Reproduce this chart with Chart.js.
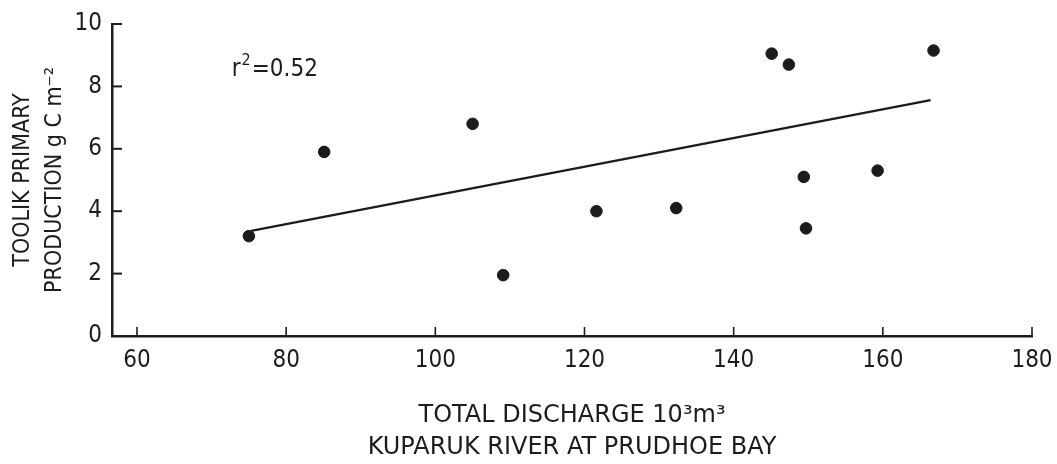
<!DOCTYPE html>
<html>
<head>
<meta charset="utf-8">
<script src="https://cdn.jsdelivr.net/npm/chart.js@4.4.1/dist/chart.umd.min.js"></script>
<style>
  html, body { margin: 0; padding: 0; background: #fff; }
  #wrap { width: 1057px; height: 464px; }
</style>
</head>
<body>
<div id="wrap"><canvas id="prodChart"></canvas></div>
<script>
// measured points: discharge (10^3 m^3) vs Toolik primary production (g C m^-2)
const discharge = [75, 85.1, 105, 109.1, 121.6, 132.3, 145.1, 147.4, 149.4, 149.7, 159.3, 166.8];
const production = [3.2, 5.9, 6.8, 1.95, 4.0, 4.1, 9.05, 8.7, 5.1, 3.45, 5.3, 9.15];

// regression line end points
const fitX = [75.3, 166.4];
const fitY = [3.37, 7.56];

const xTicks = [60, 80, 100, 120, 140, 160, 180];
const yTicks = [0, 2, 4, 6, 8, 10];
const rLabel = ['r', '2', '=0.52'];

const ink = '#1c1c1c';
const condensed = '"DejaVu Sans Condensed", "DejaVu Sans", sans-serif';

// ticks in the original point inward, so draw them by hand
const inwardTicks = {
    id: 'inwardTicks',
    afterDraw(chart) {
        const { ctx, chartArea, scales: { x, y } } = chart;
        ctx.save();
        ctx.strokeStyle = ink;
        ctx.lineWidth = 2;
        yTicks.forEach(v => {
            const py = y.getPixelForValue(v);
            ctx.beginPath();
            ctx.moveTo(chartArea.left, py);
            ctx.lineTo(chartArea.left + 10, py);
            ctx.stroke();
        });
        ctx.lineWidth = 1.6;
        xTicks.forEach(v => {
            const px = x.getPixelForValue(v);
            ctx.beginPath();
            ctx.moveTo(px, chartArea.bottom);
            ctx.lineTo(px, chartArea.bottom - 9);
            ctx.stroke();
        });

        // r^2 note with a raised 2
        ctx.fillStyle = ink;
        ctx.textAlign = 'left';
        ctx.textBaseline = 'alphabetic';
        let tx = x.getPixelForValue(72.7);
        const ty = y.getPixelForValue(8.6) + 8;
        ctx.font = '24px ' + condensed;
        ctx.fillText(rLabel[0], tx, ty);
        tx += ctx.measureText(rLabel[0]).width + 1;
        ctx.font = '16px ' + condensed;
        ctx.fillText(rLabel[1], tx, ty - 11);
        tx += ctx.measureText(rLabel[1]).width + 1;
        ctx.font = '24px ' + condensed;
        ctx.fillText(rLabel[2], tx, ty);
        ctx.restore();
    }
};

const ctx = document.getElementById('prodChart').getContext('2d');

const prodChart = new Chart(ctx, {
    type: 'scatter',
    data: {
        datasets: [{
            type: 'scatter',
            data: discharge.map((v, i) => ({ x: v, y: production[i] })),
            backgroundColor: ink,
            borderColor: ink,
            pointRadius: 5.8,
            pointHoverRadius: 5.8,
        }, {
            type: 'line',
            data: fitX.map((v, i) => ({ x: v, y: fitY[i] })),
            borderColor: ink,
            borderWidth: 2.5,
            pointRadius: 0,
            fill: false,
        }],
    },
    options: {
        responsive: true,
        maintainAspectRatio: false,
        animation: false,
        layout: {
            padding: { top: 24, right: 25, left: 0, bottom: 0 },
        },
        plugins: {
            legend: { display: false },
            tooltip: { enabled: false },
        },
        scales: {
            x: {
                type: 'linear',
                min: 56.65,
                max: 180,
                afterBuildTicks: (scale) => { scale.ticks = xTicks.map(v => ({ value: v })); },
                afterFit: (scale) => {
                    scale.height = 128;
                    scale.paddingLeft = 0;
                    scale.paddingRight = 0;
                },
                grid: { drawOnChartArea: false, drawTicks: false },
                border: { display: true, color: ink, width: 2.5 },
                ticks: {
                    color: ink,
                    padding: 10,
                    maxRotation: 0,
                    font: { family: condensed, size: 24 },
                },
                title: {
                    display: true,
                    text: ['TOTAL DISCHARGE 10\u00B3m\u00B3', 'KUPARUK RIVER AT PRUDHOE BAY'],
                    color: ink,
                    padding: { top: 0, bottom: 0 },
                    font: { family: '"DejaVu Sans", sans-serif', size: 24, lineHeight: '32px' },
                },
            },
            y: {
                type: 'linear',
                min: 0,
                max: 10,
                afterBuildTicks: (scale) => { scale.ticks = yTicks.map(v => ({ value: v })); },
                afterFit: (scale) => {
                    scale.width = 112;
                    scale.paddingTop = 0;
                    scale.paddingBottom = 0;
                },
                grid: { drawOnChartArea: false, drawTicks: false },
                border: { display: true, color: ink, width: 2.5 },
                ticks: {
                    color: ink,
                    padding: 10,
                    font: { family: condensed, size: 24 },
                },
                title: {
                    display: true,
                    text: ['TOOLIK PRIMARY', 'PRODUCTION g C m\u207B\u00B2'],
                    color: ink,
                    padding: { top: 7, bottom: 0 },
                    font: { family: condensed, size: 23, lineHeight: '32px' },
                },
            },
        },
    },
    plugins: [inwardTicks],
});
</script>
</body>
</html>
